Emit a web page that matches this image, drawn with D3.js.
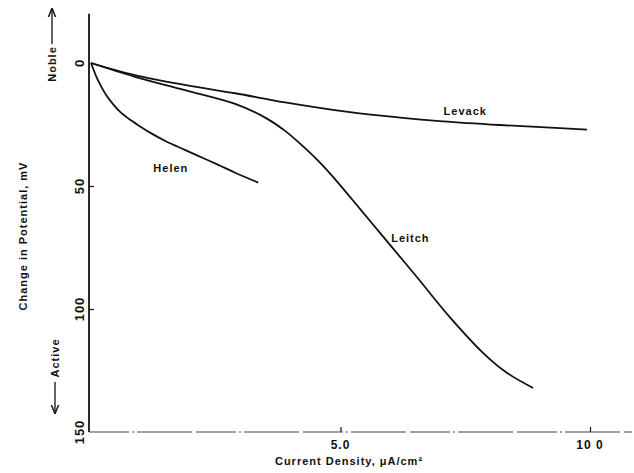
<!DOCTYPE html>
<html>
<head>
<meta charset="utf-8">
<script src="https://cdn.jsdelivr.net/npm/d3@7"></script>
<style>
  html, body { margin: 0; padding: 0; background: #fff; }
  svg { display: block; }
  text { font-family: "Liberation Sans", Arial, sans-serif; font-weight: bold; fill: #111; }
</style>
</head>
<body>
<svg id="chart" width="634" height="473"></svg>
<script>
// ---- data ----
const xTickValues = [5, 10];
const xTickLabels = ["5.0", "10 0"];
const yTickValues = [0, 50, 100, 150];
const yTickLabels = ["0", "50", "100", "150"];

const seriesNames = ["Helen", "Leitch", "Levack"];

const helenX = [0, 0.1, 0.2, 0.3, 0.45, 0.6, 0.8, 1.0, 1.2, 1.5, 1.88, 2.22, 2.55, 2.89, 3.35];
const helenY = [0, 5.2, 9.4, 12.9, 16.9, 20.2, 23.3, 26.0, 28.5, 31.8, 35.3, 38.4, 41.4, 44.6, 48.6];

const leitchX = [0, 0.88, 1.88, 2.89, 3.49, 3.89, 4.19, 4.53, 4.85, 5.39, 5.85, 6.53, 7.19, 7.86, 8.34, 8.86];
const leitchY = [0, 5.6, 11.0, 16.6, 22.2, 27.6, 32.8, 39.3, 46.3, 59.3, 70.5, 87, 103.3, 117.9, 126, 132.1];

const levackX = [0, 0.88, 1.88, 2.89, 3.89, 5.19, 6.19, 7.05, 8.2, 9.4, 9.94];
const levackY = [0, 4.9, 8.9, 12.3, 16.0, 20.0, 22.2, 23.7, 25.2, 26.5, 27.1];

// ---- layout ----
const svg = d3.select("#chart");
const x = d3.scaleLinear().domain([0, 10]).range([91, 590]);
const y = d3.scaleLinear().domain([0, 150]).range([63, 432]);

// y axis (ticks point inward)
const yAxis = d3.axisLeft(y).tickValues([50, 100]).tickSizeInner(-5).tickSizeOuter(0).tickFormat("");
const gy = svg.append("g").attr("transform", "translate(89,0)").call(yAxis);
gy.select(".domain").remove();
gy.selectAll(".tick line").attr("stroke", "#111").attr("stroke-width", 1.2);
svg.append("line")
  .attr("x1", 89).attr("x2", 89)
  .attr("y1", y(-20)).attr("y2", y(150))
  .attr("stroke", "#111").attr("stroke-width", 1.8);

// y tick labels (rotated)
yTickValues.forEach((v, i) => {
  svg.append("text")
    .attr("transform", `translate(79,${y(v)}) rotate(-90)`)
    .attr("text-anchor", "middle")
    .attr("dominant-baseline", "central")
    .attr("font-size", 13)
    .attr("letter-spacing", 1)
    .text(yTickLabels[i]);
});

// x axis (broken / dashed as in the scan)
const xAxis = d3.axisBottom(x).tickValues(xTickValues).tickSizeInner(-5).tickSizeOuter(0).tickFormat("");
const gx = svg.append("g").attr("transform", `translate(0,${y(150)})`).call(xAxis);
gx.select(".domain").remove();
gx.selectAll(".tick line").attr("stroke", "#111").attr("stroke-width", 1.2);
svg.append("line")
  .attr("x1", 89).attr("x2", 632)
  .attr("y1", y(150)).attr("y2", y(150))
  .attr("stroke", "#444").attr("stroke-width", 1.2)
  .attr("stroke-dasharray", "40 3 2 3 55 4");

xTickValues.forEach((v, i) => {
  svg.append("text")
    .attr("x", x(v)).attr("y", 449)
    .attr("text-anchor", "middle")
    .attr("font-size", 12)
    .attr("letter-spacing", 1)
    .text(xTickLabels[i]);
});

// axis titles
svg.append("text")
  .attr("x", 349).attr("y", 465)
  .attr("text-anchor", "middle")
  .attr("font-size", 11)
  .attr("letter-spacing", 1)
  .text("Current  Density, μA/cm²");

svg.append("text")
  .attr("transform", "translate(23,236) rotate(-90)")
  .attr("text-anchor", "middle")
  .attr("dominant-baseline", "central")
  .attr("font-size", 11)
  .attr("letter-spacing", 1)
  .text("Change in Potential, mV");

// Noble / Active arrows
svg.append("defs").append("marker")
  .attr("id", "arr").attr("viewBox", "0 0 10 10")
  .attr("refX", 9).attr("refY", 5)
  .attr("markerWidth", 7).attr("markerHeight", 7)
  .attr("orient", "auto")
  .append("path").attr("d", "M0,1 L10,5 L0,9").attr("fill", "none").attr("stroke", "#111").attr("stroke-width", 1.6);

svg.append("text")
  .attr("transform", "translate(52,64) rotate(-90)")
  .attr("text-anchor", "middle")
  .attr("dominant-baseline", "central")
  .attr("font-size", 11)
  .attr("letter-spacing", 1)
  .text("Noble");
svg.append("line")
  .attr("x1", 52).attr("x2", 52).attr("y1", 44).attr("y2", 9)
  .attr("stroke", "#111").attr("stroke-width", 1.3)
  .attr("marker-end", "url(#arr)");

svg.append("text")
  .attr("transform", "translate(55,358) rotate(-90)")
  .attr("text-anchor", "middle")
  .attr("dominant-baseline", "central")
  .attr("font-size", 11)
  .attr("letter-spacing", 1)
  .text("Active");
svg.append("line")
  .attr("x1", 55).attr("x2", 55).attr("y1", 382).attr("y2", 413)
  .attr("stroke", "#111").attr("stroke-width", 1.3)
  .attr("marker-end", "url(#arr)");

// curves
const line = d3.line().x(d => x(d[0])).y(d => y(d[1])).curve(d3.curveCatmullRom.alpha(0.5));
const seriesData = [
  d3.zip(helenX, helenY),
  d3.zip(leitchX, leitchY),
  d3.zip(levackX, levackY)
];
svg.selectAll("path.series")
  .data(seriesData)
  .enter().append("path")
  .attr("class", "series")
  .attr("d", line)
  .attr("fill", "none")
  .attr("stroke", "#111")
  .attr("stroke-width", 1.8)
  .attr("stroke-linejoin", "round");

// curve labels
const labelPos = [[1.6, 42.5], [6.4, 71], [7.5, 19.5]];
seriesNames.forEach((n, i) => {
  svg.append("text")
    .attr("x", x(labelPos[i][0])).attr("y", y(labelPos[i][1]))
    .attr("text-anchor", "middle")
    .attr("dominant-baseline", "central")
    .attr("font-size", 11)
    .attr("letter-spacing", 1)
    .text(n);
});
</script>
</body>
</html>
